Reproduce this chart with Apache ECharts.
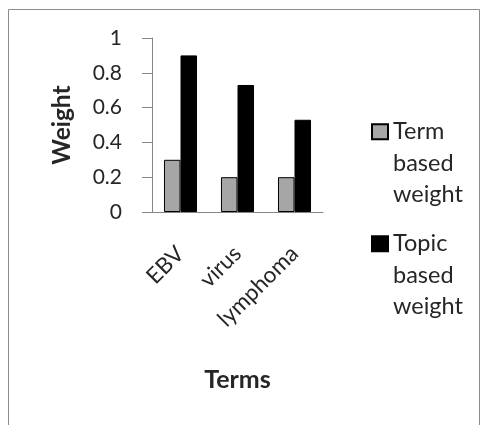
<!DOCTYPE html>
<html>
<head>
<meta charset="utf-8">
<style>
  html, body { margin: 0; padding: 0; background: #fff; }
  #chart { width: 482px; height: 425px; }
</style>
<script src="https://cdn.jsdelivr.net/npm/echarts@6/dist/echarts.min.js"></script>
</head>
<body>
<div id="chart"></div>
<script>
// Term weights compared by method
const terms = ['EBV', 'virus', 'lymphoma'];
const termBasedWeight = [0.3, 0.2, 0.2];
const topicBasedWeight = [0.9, 0.73, 0.53];
const seriesNames = ['Term\nbased\nweight', 'Topic\nbased\nweight'];
const yTicks = { min: 0, max: 1, interval: 0.2 };

const FONT = 'Lato, "Open Sans", sans-serif';
const TEXT = '#262626';
const AXIS = '#868686';

const chart = echarts.init(document.getElementById('chart'), null, { renderer: 'canvas' });

// Legend entries: icon aligned with the first text line
function legendFor(name, top) {
  return {
    data: [name],
    left: 366,
    top: top,
    orient: 'vertical',
    icon: 'rect',
    itemWidth: 16,
    itemHeight: 15,
    selectedMode: false,
    formatter: n => '\n\n' + n,
    textStyle: { fontFamily: FONT, fontSize: 23.5, color: TEXT, lineHeight: 31.5 }
  };
}

chart.setOption({
  animation: false,
  backgroundColor: '#fff',
  graphic: [{
    type: 'rect',
    shape: { x: 8.5, y: 9.5, width: 471, height: 430 },
    style: { fill: 'none', stroke: '#8c8c8c', lineWidth: 1 },
    silent: true
  }],
  grid: { left: 152, right: 159, top: 38, bottom: 213 },
  legend: [
    legendFor(seriesNames[0], 48),
    legendFor(seriesNames[1], 160)
  ],
  xAxis: {
    type: 'category',
    data: terms,
    name: 'Terms',
    nameLocation: 'middle',
    nameGap: 155,
    nameTextStyle: { fontFamily: FONT, fontSize: 25, fontWeight: 'bold', color: TEXT },
    axisLine: { lineStyle: { color: AXIS, width: 1 } },
    axisTick: { show: false },
    axisLabel: {
      rotate: 45,
      margin: 38,
      fontFamily: FONT,
      fontSize: 22.5,
      color: TEXT
    }
  },
  yAxis: {
    type: 'value',
    min: yTicks.min,
    max: yTicks.max,
    interval: yTicks.interval,
    name: 'Weight',
    nameLocation: 'middle',
    nameGap: 77,
    nameTextStyle: { fontFamily: FONT, fontSize: 24.5, fontWeight: 'bold', color: TEXT },
    axisLine: { show: true, lineStyle: { color: AXIS, width: 1 } },
    axisTick: { show: true, inside: false, length: 10, lineStyle: { color: AXIS } },
    splitLine: { show: false },
    axisLabel: {
      margin: 30,
      fontFamily: FONT,
      fontSize: 21,
      color: TEXT,
      formatter: v => String(Math.round(v * 10) / 10)
    }
  },
  series: [
    {
      name: seriesNames[0],
      type: 'bar',
      data: termBasedWeight,
      barGap: '0%',
      barCategoryGap: '42%',
      itemStyle: { color: '#a6a6a6', borderColor: '#000', borderWidth: 1 }
    },
    {
      name: seriesNames[1],
      type: 'bar',
      data: topicBasedWeight,
      barGap: '0%',
      barCategoryGap: '42%',
      itemStyle: { color: '#000', borderColor: '#000', borderWidth: 1 }
    }
  ]
});
</script>
</body>
</html>
